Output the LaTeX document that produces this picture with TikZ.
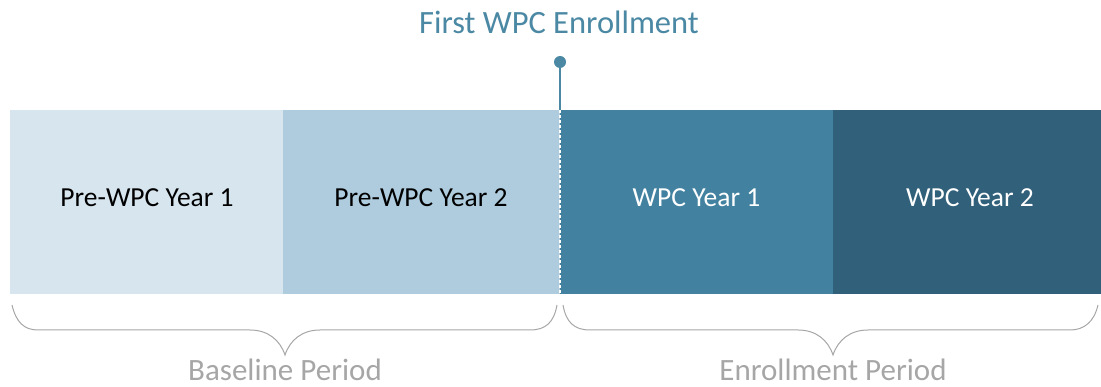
\documentclass[tikz,border=0pt]{standalone}
\usepackage{fontspec}
\setmainfont{Carlito}
\definecolor{c1}{HTML}{D6E5EE}
\definecolor{c2}{HTML}{AECCDE}
\definecolor{c3}{HTML}{4282A0}
\definecolor{c4}{HTML}{31607A}
\definecolor{ttl}{HTML}{4A88A3}
\definecolor{gr}{HTML}{A6A6A6}
\begin{document}
\begin{tikzpicture}[x=1pt,y=-1pt,
  seg/.style={inner sep=0pt,anchor=base,font=\fontsize{27.5}{30}\selectfont},
  brace/.style={draw=gr,line width=1pt},
  lbl/.style={font=\fontsize{31}{36}\selectfont,text=gr,inner sep=0pt,anchor=base,text depth=0pt}]
\useasboundingbox (0,0) rectangle (1101,387);
\fill[c1] (10,110) rectangle (283,294);
\fill[c2] (283,110) rectangle (560,294);
\fill[c3] (560,110) rectangle (833,294);
\fill[c4] (833,110) rectangle (1101,294);
\node[seg] (s1) at (147,207) {Pre-WPC Year 1};
\node[seg] (s2) at (421,207) {Pre-WPC Year 2};
\node[seg,text=white] (s3) at (696.5,207) {WPC Year 1};
\node[seg,text=white] (s4) at (970,207) {WPC Year 2};
\node[font=\fontsize{32.5}{36}\selectfont,text=ttl,inner sep=0pt,anchor=base] (t) at (559,33.5) {First WPC Enrollment};
\fill[ttl] (560,62) circle (6);
\coordinate (d) at (560,62);
\coordinate (top) at (560,110);
\coordinate (bot) at (560,294);
\draw[ttl,line width=1.5pt] (d) -- (top);
\draw[white,line width=1.2pt,dash pattern=on 3pt off 2pt] (top) -- (bot);
% braces
\draw[brace] (12,305) .. controls (16,322) and (24,330) .. (38,330) -- (250,330) .. controls (268,330) and (280,340) .. (285,355) .. controls (290,340) and (302,330) .. (320,330) -- (530,330) .. controls (546,330) and (554,322) .. (557,305);
\draw[brace] (563,305) .. controls (566,322) and (574,330) .. (590,330) -- (798,330) .. controls (816,330) and (828,340) .. (833,355) .. controls (838,340) and (850,330) .. (868,330) -- (1070,330) .. controls (1084,330) and (1094,322) .. (1098,305);
\node[lbl] (b1) at (285,381) {Baseline Period};
\node[lbl] (b2) at (833,381) {Enrollment Period};
\end{tikzpicture}
\end{document}
